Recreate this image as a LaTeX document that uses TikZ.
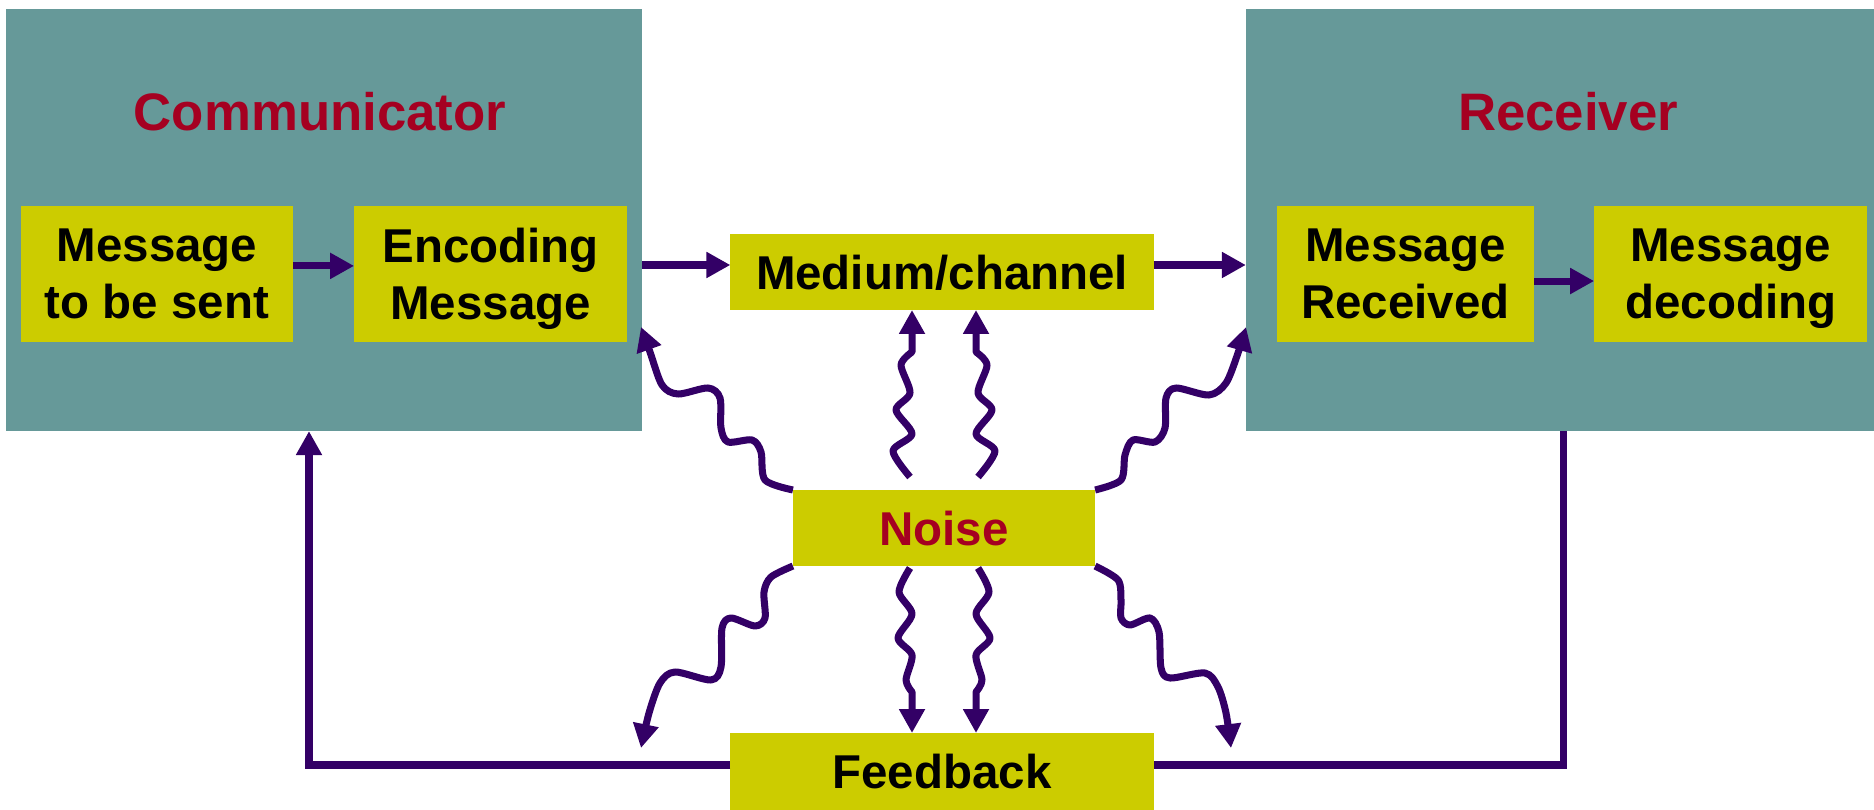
\documentclass[tikz,border=0pt]{standalone}
\usepackage{fontspec}
\setmainfont{Liberation Sans}
\usetikzlibrary{arrows.meta,positioning,calc}
\definecolor{tealbox}{RGB}{102,153,153}
\definecolor{olivebox}{RGB}{204,204,0}
\definecolor{titlered}{RGB}{165,0,33}
\definecolor{flowpurple}{RGB}{51,0,102}
\tikzset{
    party/.style={fill=tealbox,inner sep=0pt,outer sep=0pt},
    stage/.style={fill=olivebox,inner sep=0pt,outer sep=0pt,align=center,text depth=0pt},
    partytitle/.style={text=titlered,font=\fontsize{15}{18}\selectfont\bfseries},
    flowline/.style={flowpurple,line width=2pt},
    arr/.style={flowline,-{Triangle[length=6.8pt,width=7pt]}},
    noisy/.style={arr,line join=round},
}
\tikzstyle{every node}=[font=\fontsize{13.5}{16.2}\selectfont\bfseries]

\begin{document}
\begin{tikzpicture}[x=0.01cm,y=-0.01cm]
        \useasboundingbox (0,0) rectangle (1874,810);
        % the two parties
        \node[party,minimum width=6.36cm,minimum height=4.22cm] (comm) at (324,220) {};
        \node[party,minimum width=6.28cm,minimum height=4.22cm] (recv) at (1560,220) {};
        \node[partytitle] (comm title) at (320,112) {Communicator};
        \node[partytitle] (recv title) at (1568,112) {Receiver};

        \node[stage,minimum width=2.72cm,minimum height=1.35cm] (msg) at (157,274) {Message\\to be sent};
        \node[stage,minimum width=2.73cm,minimum height=1.35cm,right=0.61cm of msg] (enc) {Encoding\\Message};
        \node[stage,minimum width=2.57cm,minimum height=1.35cm] (rec) at (1405.5,274) {Message\\Received};
        \node[stage,minimum width=2.73cm,minimum height=1.35cm,right=0.6cm of rec] (dec) {Message\\decoding};

        \node[stage,minimum width=4.23cm,minimum height=0.76cm] (medium) at (942,272) {Medium/channel};
        \node[stage,minimum width=3.02cm,minimum height=0.76cm,text=titlered] (noise) at (944,528) {Noise};
        \node[stage,minimum width=4.23cm,minimum height=0.77cm] (feedback) at (942,771.5) {Feedback};

        % main flow
        \draw[arr] ([yshift=2.3pt]msg.east) -- ([yshift=2.3pt]enc.west);
        \draw[arr] ([yshift=-2pt]rec.east) -- ([yshift=-2pt]dec.west);
        \draw[arr] (comm.east |- 0,265) -- (medium.west |- 0,265);
        \draw[arr] (medium.east |- 0,265) -- (recv.west |- 0,265);

        % feedback loop
        \draw[flowline] (recv.south -| 1563,0) |- (feedback.east |- 0,765);
        \draw[arr] (feedback.west |- 0,765) -| (comm.south -| 309,0);

        % noise
        \draw[noisy] plot[smooth] coordinates {(noise.north west) (765,480) (761,452) (752,440) (728,442)
            (721,428) (720,398) (708,388) (678,394) (662,385) (650,352) (641,327)};
        \draw[noisy] plot[smooth] coordinates {(noise.north east) (1121,480) (1125,455) (1133,440) (1155,442)
            (1165,428) (1166,398) (1176,388) (1209,395) (1226,383) (1238,353) (1246,327)};
        \draw[noisy] plot[smooth] coordinates {(noise.south west) (771,577) (764,592) (765,618) (755,626)
            (731,618) (722,628) (721,667) (711,680) (675,672) (660,683) (649,713) (641,748)};
        \draw[noisy] plot[smooth] coordinates {(noise.south east) (1118,580) (1121,600) (1121,618) (1130,625)
            (1150,618) (1159,632) (1161,668) (1170,678) (1205,673) (1218,687) (1226,713) (1231,748)};

        \draw[noisy] plot[smooth] coordinates {($(noise.north)+(-34,-13)$) (893,451) (912,434) (896,410)
            (910,393) (901,365) (912,352)} -- (medium.south -| 912,0);
        \draw[noisy] plot[smooth] coordinates {($(noise.north)+(34,-13)$) (995,451) (976,434) (992,410)
            (978,393) (987,365) (976,352)} -- (medium.south -| 976,0);
        \draw[noisy] plot[smooth] coordinates {($(noise.south)+(-34,2)$) (899,592) (912,614) (898,638)
            (912,655) (906,680) (912,692)} -- (feedback.north -| 912,0);
        \draw[noisy] plot[smooth] coordinates {($(noise.south)+(34,2)$) (989,592) (976,614) (990,638)
            (976,655) (982,680) (976,692)} -- (feedback.north -| 976,0);
\end{tikzpicture}
\end{document}
